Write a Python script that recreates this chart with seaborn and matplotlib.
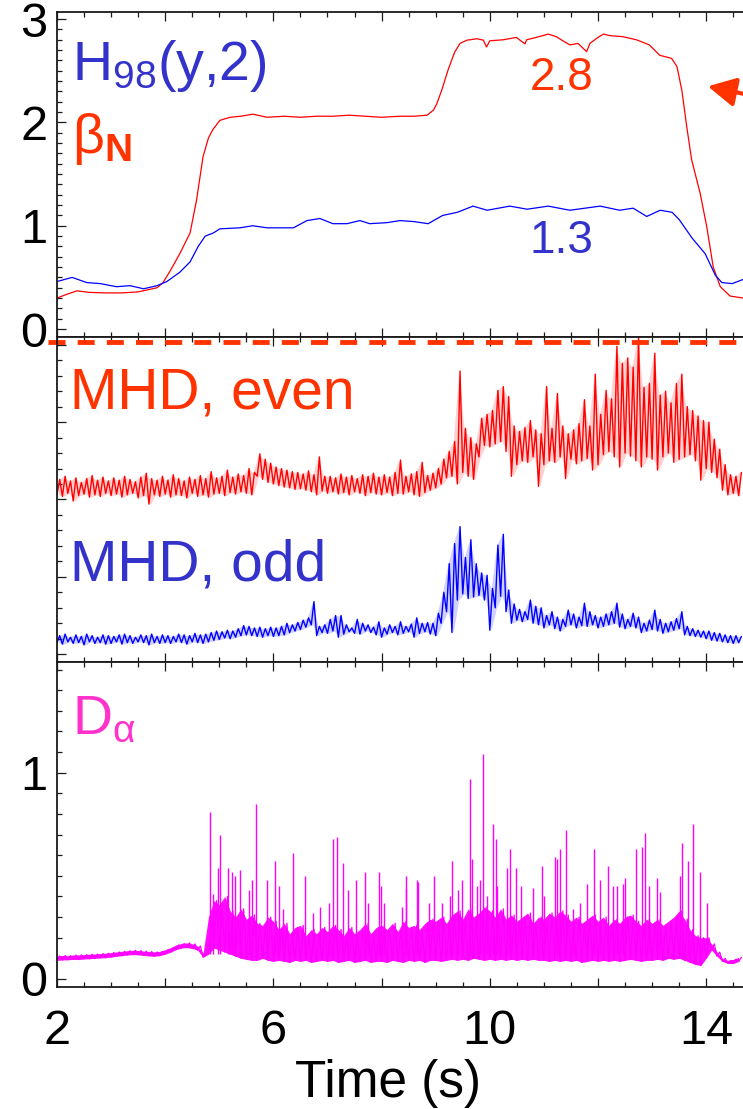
import numpy as np
import pandas as pd
import matplotlib
matplotlib.use("Agg")
import matplotlib.pyplot as plt
from matplotlib.ticker import MultipleLocator, FuncFormatter
import seaborn as sns

# ---------------- top panel: confinement and normalised beta ----------------
beta_t = [2.00, 2.20, 2.37, 2.60, 2.90, 3.20, 3.50, 3.85, 3.96, 4.10, 4.27, 4.46, 4.58,
          4.70, 4.80, 4.88, 5.01, 5.20, 5.40, 5.62, 5.88, 6.20, 6.50, 6.80, 7.10, 7.40,
          7.70, 8.00, 8.34, 8.60, 8.84, 8.96, 9.02, 9.11, 9.23, 9.35, 9.45, 9.58, 9.64,
          9.76, 9.88, 9.94, 10.00, 10.25, 10.49, 10.65, 10.68, 10.86, 11.08, 11.23, 11.32,
          11.48, 11.63, 11.79, 11.85, 12.00, 12.10, 12.22, 12.46, 12.71, 12.95, 13.14,
          13.36, 13.46, 13.55, 13.64, 13.73, 13.89, 14.01, 14.13, 14.26, 14.44, 14.68]
beta_n = [0.30, 0.34, 0.37, 0.355, 0.35, 0.35, 0.36, 0.40, 0.45, 0.57, 0.73, 0.93, 1.25,
          1.67, 1.85, 1.93, 2.02, 2.05, 2.06, 2.08, 2.05, 2.06, 2.05, 2.06, 2.06, 2.07,
          2.06, 2.05, 2.06, 2.06, 2.07, 2.12, 2.18, 2.31, 2.51, 2.68, 2.765, 2.797, 2.80,
          2.81, 2.797, 2.73, 2.79, 2.80, 2.823, 2.76, 2.80, 2.823, 2.855, 2.83, 2.80,
          2.75, 2.765, 2.685, 2.765, 2.823, 2.855, 2.84, 2.83, 2.80, 2.75, 2.65,
          2.62, 2.54, 2.31, 1.96, 1.64, 1.31, 0.99, 0.60, 0.41, 0.32, 0.30]

h98_t = [2.00, 2.28, 2.55, 2.80, 3.10, 3.35, 3.60, 3.85, 4.03, 4.27, 4.46, 4.61, 4.74,
         4.89, 5.01, 5.38, 5.62, 5.88, 6.37, 6.62, 6.86, 7.10, 7.36, 7.60, 7.78, 8.10,
         8.34, 8.60, 8.86, 9.13, 9.40, 9.69, 9.95, 10.37, 10.69, 11.08, 11.48, 12.04,
         12.40, 12.65, 12.90, 13.15, 13.37, 13.50, 13.74, 13.98, 14.17, 14.29, 14.48, 14.68]
h98 = [0.46, 0.50, 0.45, 0.44, 0.41, 0.42, 0.39, 0.42, 0.46, 0.55, 0.65, 0.80, 0.90,
       0.93, 0.97, 0.98, 1.00, 0.98, 0.98, 1.05, 1.07, 1.02, 1.02, 1.05, 1.02, 1.03,
       1.05, 1.04, 1.02, 1.10, 1.13, 1.19, 1.15, 1.19, 1.16, 1.19, 1.15, 1.19,
       1.15, 1.17, 1.09, 1.15, 1.13, 1.06, 0.88, 0.73, 0.52, 0.45, 0.44, 0.48]

beta_flattop = 2.8
h98_flattop = 1.3
beta_limit = 2.35          # level marked by the arrow on the right

# ---------------- middle panel: MHD amplitudes (per-bin min / max, 0.1 s bins) ----------------
t_bins = np.round(np.arange(2.0, 14.65, 0.1), 2)

even_lo = [2.06, 2.04, 2.08, 1.98, 2.05, 2.07, 2.03, 2.06, 2.04, 2.08,
           2.05, 2.07, 2.03, 2.06, 2.08, 2.02, 2.05, 1.94, 2.06, 2.04,
           2.07, 2.03, 2.06, 2.05, 2.02, 2.08, 2.04, 2.06, 2.03, 2.07,
           2.08, 2.05, 2.09, 2.07, 2.10, 2.08, 2.06, 2.30, 2.26, 2.22,
           2.20, 2.18, 2.16, 2.15, 2.13, 2.14, 2.12, 2.10, 2.06, 2.11,
           2.08, 2.10, 2.07, 2.09, 2.06, 2.10, 2.08, 2.05, 2.09, 2.07,
           2.06, 2.09, 2.05, 2.08, 2.07, 2.10, 2.06, 2.04, 2.09, 2.12,
           2.15, 2.20, 2.28, 2.30, 2.20, 2.35, 2.30, 2.26, 2.55, 2.70,
           2.68, 2.72, 2.75, 2.62, 2.30, 2.45, 2.50, 2.48, 2.55, 2.17,
           2.45, 2.50, 2.48, 2.55, 2.27, 2.52, 2.46, 2.50, 2.53, 2.38,
           2.45, 2.58, 2.62, 2.55, 2.42, 2.60, 2.56, 2.50, 2.42, 2.55,
           2.52, 2.38, 2.55, 2.60, 2.48, 2.52, 2.55, 2.58, 2.50, 2.25,
           2.40, 2.35, 2.28, 2.12, 2.06, 2.08, 2.05]
even_hi = [2.26, 2.30, 2.24, 2.28, 2.22, 2.27, 2.31, 2.25, 2.29, 2.24,
           2.28, 2.25, 2.30, 2.26, 2.23, 2.29, 2.34, 2.27, 2.25, 2.30,
           2.25, 2.32, 2.27, 2.24, 2.29, 2.26, 2.31, 2.27, 2.36, 2.28,
           2.30, 2.38, 2.29, 2.33, 2.31, 2.40, 2.35, 2.59, 2.52, 2.47,
           2.42, 2.40, 2.38, 2.36, 2.35, 2.33, 2.37, 2.32, 2.55, 2.30,
           2.30, 2.28, 2.33, 2.29, 2.31, 2.27, 2.32, 2.30, 2.34, 2.29,
           2.32, 2.29, 2.35, 2.51, 2.30, 2.33, 2.36, 2.48, 2.31, 2.34,
           2.40, 2.52, 2.62, 2.75, 3.66, 2.92, 2.80, 2.72, 3.05, 3.10,
           3.15, 3.41, 3.46, 3.33, 2.95, 2.88, 2.93, 3.02, 2.90, 2.85,
           3.46, 2.92, 3.37, 2.95, 2.85, 2.90, 2.98, 3.29, 2.95, 3.62,
           3.10, 3.41, 3.30, 3.98, 3.76, 3.83, 3.71, 4.10, 3.45, 3.50,
           3.89, 3.35, 3.40, 3.25, 3.50, 3.62, 3.20, 3.15, 3.08, 3.02,
           3.00, 2.78, 2.65, 2.45, 2.32, 2.30, 2.35]

odd_lo = [0.15, 0.13, 0.16, 0.14, 0.15, 0.12, 0.16, 0.14, 0.15, 0.13,
          0.14, 0.16, 0.13, 0.15, 0.14, 0.16, 0.15, 0.12, 0.15, 0.14,
          0.15, 0.14, 0.16, 0.15, 0.13, 0.16, 0.15, 0.14, 0.16, 0.18,
          0.19, 0.21, 0.20, 0.22, 0.24, 0.25, 0.24, 0.23, 0.22, 0.24,
          0.23, 0.24, 0.25, 0.28, 0.30, 0.32, 0.35, 0.38, 0.24, 0.28,
          0.27, 0.30, 0.22, 0.26, 0.29, 0.27, 0.26, 0.30, 0.28, 0.25,
          0.22, 0.26, 0.28, 0.25, 0.27, 0.29, 0.22, 0.27, 0.29, 0.26,
          0.24, 0.40, 0.55, 0.28, 0.70, 0.78, 0.72, 0.74, 0.76, 0.70,
          0.31, 0.60, 0.75, 0.55, 0.40, 0.44, 0.42, 0.45, 0.40, 0.38,
          0.34, 0.38, 0.33, 0.30, 0.36, 0.38, 0.34, 0.37, 0.36, 0.38,
          0.34, 0.36, 0.38, 0.40, 0.35, 0.33, 0.36, 0.34, 0.28, 0.30,
          0.32, 0.30, 0.27, 0.29, 0.31, 0.33, 0.25, 0.24, 0.23, 0.22,
          0.20, 0.18, 0.17, 0.16, 0.15, 0.14, 0.15]
odd_hi = [0.24, 0.26, 0.22, 0.25, 0.23, 0.26, 0.24, 0.22, 0.25, 0.24,
          0.23, 0.25, 0.26, 0.24, 0.22, 0.25, 0.24, 0.26, 0.23, 0.25,
          0.24, 0.23, 0.26, 0.25, 0.24, 0.27, 0.25, 0.26, 0.28, 0.30,
          0.29, 0.31, 0.30, 0.33, 0.37, 0.36, 0.34, 0.35, 0.33, 0.35,
          0.34, 0.36, 0.40, 0.38, 0.41, 0.44, 0.47, 0.68, 0.36, 0.38,
          0.45, 0.50, 0.50, 0.38, 0.34, 0.45, 0.40, 0.38, 0.35, 0.42,
          0.34, 0.38, 0.36, 0.42, 0.36, 0.39, 0.47, 0.40, 0.41, 0.40,
          0.53, 0.80, 1.17, 1.43, 1.65, 1.25, 1.48, 1.17, 1.05, 1.02,
          0.85, 1.41, 1.55, 0.83, 0.65, 0.58, 0.55, 0.70, 0.62, 0.60,
          0.50, 0.55, 0.48, 0.45, 0.57, 0.52, 0.48, 0.66, 0.55, 0.50,
          0.48, 0.52, 0.55, 0.66, 0.52, 0.45, 0.53, 0.48, 0.40, 0.44,
          0.57, 0.45, 0.40, 0.42, 0.46, 0.55, 0.36, 0.33, 0.31, 0.30,
          0.30, 0.28, 0.27, 0.25, 0.24, 0.24, 0.23]

even_limit = 4.03          # dashed reference level at the top of the MHD panel

# ---------------- bottom panel: D-alpha (per-bin min / max plus ELM spikes) ----------------
da_lo = [0.090, 0.092, 0.093, 0.095, 0.094, 0.097, 0.098, 0.100, 0.102, 0.103,
         0.106, 0.110, 0.113, 0.116, 0.118, 0.117, 0.114, 0.112, 0.110, 0.113,
         0.120, 0.130, 0.142, 0.150, 0.152, 0.148, 0.140, 0.105, 0.120, 0.150,
         0.140, 0.130, 0.120, 0.110, 0.100, 0.095, 0.090, 0.090, 0.100, 0.090,
         0.085, 0.090, 0.085, 0.080, 0.090, 0.085, 0.090, 0.080, 0.085, 0.090,
         0.085, 0.090, 0.080, 0.085, 0.090, 0.080, 0.085, 0.090, 0.080, 0.085,
         0.085, 0.080, 0.090, 0.085, 0.080, 0.090, 0.085, 0.090, 0.080, 0.090,
         0.090, 0.085, 0.090, 0.095, 0.090, 0.095, 0.090, 0.100, 0.095, 0.090,
         0.095, 0.090, 0.095, 0.090, 0.095, 0.090, 0.095, 0.090, 0.095, 0.090,
         0.090, 0.085, 0.090, 0.085, 0.090, 0.085, 0.090, 0.080, 0.085, 0.090,
         0.085, 0.090, 0.085, 0.090, 0.085, 0.090, 0.095, 0.090, 0.085, 0.090,
         0.090, 0.095, 0.090, 0.100, 0.095, 0.100, 0.090, 0.080, 0.070, 0.065,
         0.100, 0.140, 0.110, 0.085, 0.075, 0.075, 0.085]
da_hi = [0.112, 0.114, 0.113, 0.116, 0.117, 0.118, 0.120, 0.121, 0.123, 0.125,
         0.128, 0.131, 0.134, 0.137, 0.139, 0.138, 0.135, 0.133, 0.131, 0.134,
         0.142, 0.152, 0.165, 0.172, 0.175, 0.170, 0.160, 0.125, 0.300, 0.380,
         0.360, 0.400, 0.330, 0.300, 0.340, 0.290, 0.310, 0.270, 0.260, 0.300,
         0.280, 0.240, 0.270, 0.220, 0.250, 0.260, 0.210, 0.240, 0.220, 0.250,
         0.230, 0.260, 0.240, 0.210, 0.250, 0.220, 0.240, 0.270, 0.220, 0.250,
         0.260, 0.240, 0.270, 0.230, 0.280, 0.250, 0.260, 0.240, 0.270, 0.290,
         0.280, 0.300, 0.270, 0.310, 0.330, 0.290, 0.340, 0.300, 0.320, 0.350,
         0.330, 0.300, 0.340, 0.290, 0.310, 0.280, 0.300, 0.320, 0.270, 0.300,
         0.290, 0.320, 0.300, 0.330, 0.310, 0.280, 0.300, 0.270, 0.290, 0.310,
         0.280, 0.300, 0.260, 0.290, 0.270, 0.300, 0.310, 0.280, 0.260, 0.290,
         0.270, 0.290, 0.260, 0.280, 0.300, 0.330, 0.290, 0.240, 0.210, 0.200,
         0.200, 0.170, 0.130, 0.100, 0.090, 0.095, 0.105]

elm_t = [4.82, 4.88, 4.98, 5.02, 5.16, 5.23, 5.29, 5.38, 5.54, 5.60, 5.68, 5.88, 6.03,
         6.11, 6.18, 6.37, 6.58, 6.74, 6.86, 7.02, 7.11, 7.18, 7.29, 7.38, 7.52, 7.69,
         7.75, 7.95, 7.99, 8.05, 8.37, 8.45, 8.46, 8.65, 8.68, 8.88, 8.96, 9.11, 9.26,
         9.30, 9.42, 9.49, 9.63, 9.68, 9.76, 9.82, 9.88, 9.94, 10.05, 10.11, 10.13,
         10.31, 10.37, 10.48, 10.58, 10.80, 10.96, 11.00, 11.20, 11.25, 11.30, 11.41,
         11.54, 11.67, 11.79, 11.93, 12.04, 12.18, 12.27, 12.36, 12.47, 12.50, 12.70,
         12.81, 12.86, 12.95, 13.09, 13.15, 13.52, 13.55, 13.67, 13.76, 13.89, 14.01]
elm_peak = [0.81, 0.41, 0.54, 0.70, 0.54, 0.52, 0.50, 0.53, 0.43, 0.48, 0.85, 0.48, 0.57,
            0.45, 0.34, 0.61, 0.50, 0.32, 0.35, 0.37, 0.68, 0.69, 0.56, 0.43, 0.48, 0.52,
            0.37, 0.52, 0.45, 0.37, 0.35, 0.50, 0.44, 0.48, 0.47, 0.37, 0.50, 0.37, 0.40,
            0.57, 0.43, 0.48, 0.97, 0.58, 0.45, 0.48, 1.09, 0.40, 0.75, 0.68, 0.45,
            0.54, 0.63, 0.54, 0.45, 0.44, 0.55, 0.40, 0.59, 0.58, 0.63, 0.72,
            0.34, 0.37, 0.46, 0.63, 0.48, 0.55, 0.45, 0.45, 0.46, 0.49, 0.63,
            0.64, 0.71, 0.45, 0.49, 0.42, 0.50, 0.66, 0.57, 0.75, 0.52, 0.37]

# ---------------- styling ----------------
sns.set_theme(style="ticks")
plt.rcParams["font.family"] = ["Liberation Sans", "DejaVu Sans"]
plt.rcParams["mathtext.fontset"] = "custom"
plt.rcParams["mathtext.rm"] = "Liberation Sans"
plt.rcParams["mathtext.sf"] = "Liberation Sans"
plt.rcParams["mathtext.it"] = "Liberation Sans:italic"
plt.rcParams["mathtext.bf"] = "Liberation Sans:bold"
plt.rcParams["mathtext.default"] = "regular"
for key in ("text.color", "axes.labelcolor", "xtick.labelcolor", "ytick.labelcolor"):
    plt.rcParams[key] = "black"

RED_LINE, BLUE_LINE, MAG_LINE = "#ff0000", "#0000ff", "#ff00ff"
RED_TXT, BLUE_TXT, MAG_TXT = "#ff3300", "#3333cc", "#ff33cc"
AXIS_CLR = "#1a1a1a"

fig = plt.figure(figsize=(7.43, 11.09), dpi=100)
left, width = 0.0767, 1.0 - 0.0767
ax1 = fig.add_axes([left, 0.6961, width, 0.2931])
ax2 = fig.add_axes([left, 0.4031, width, 0.2930])
ax3 = fig.add_axes([left, 0.1100, width, 0.2931])

XMIN, XMAX = 2.0, 14.68


def style_axis(ax, ymin, ymax, ymajor, yminor, show_y=True, show_x=False):
    ax.set_xlim(XMIN, XMAX)
    ax.set_ylim(ymin, ymax)
    ax.xaxis.set_major_locator(MultipleLocator(2))
    ax.xaxis.set_minor_locator(MultipleLocator(0.5))
    ax.yaxis.set_major_locator(MultipleLocator(ymajor))
    ax.yaxis.set_minor_locator(MultipleLocator(yminor))
    ax.tick_params(which="both", direction="in", top=True, bottom=True,
                   left=True, right=False, color=AXIS_CLR, width=0.9,
                   labelcolor="black")
    ax.tick_params(which="major", length=6.5)
    ax.tick_params(which="minor", length=3.6)
    ax.tick_params(axis="y", labelsize=35, pad=7)
    ax.tick_params(axis="x", labelsize=35, pad=16)
    if show_x:
        ax.xaxis.set_major_formatter(
            FuncFormatter(lambda v, p: f"{v:g}" if int(round(v)) % 4 == 2 else ""))
    else:
        ax.tick_params(axis="x", labelbottom=False)
    if not show_y:
        ax.tick_params(axis="y", labelleft=False)
    else:
        ax.yaxis.set_major_formatter(FuncFormatter(lambda v, p: f"{v:g}"))
    ax.spines["right"].set_visible(False)
    for s in ("left", "top", "bottom"):
        ax.spines[s].set_linewidth(1.3)
        ax.spines[s].set_color(AXIS_CLR)
    ax.set_xlabel("")
    ax.set_ylabel("")


def minmax_trace(t, lo, hi):
    tt = np.column_stack([t, t + 0.05]).ravel()
    vv = np.column_stack([lo, hi]).ravel()
    return pd.DataFrame({"t": tt, "v": vv})


# top panel
sns.lineplot(x=beta_t, y=beta_n, ax=ax1, color=RED_LINE, lw=0.9, estimator=None)
sns.lineplot(x=h98_t, y=h98, ax=ax1, color=BLUE_LINE, lw=0.9, estimator=None)
style_axis(ax1, -0.077, 3.069, 1, 0.1)
ax1.text(2.28, 2.41, "H$_{98}$(y,2)", color=BLUE_TXT, fontsize=40, va="baseline")
ax1.text(2.28, 1.70, r"β$_{\mathbf{N}}$", color=RED_TXT, fontsize=40, va="baseline")
ax1.text(11.33, 2.31, f"{beta_flattop:.1f}", color=RED_TXT, fontsize=33,
         ha="center", va="baseline")
ax1.text(11.33, 0.736, f"{h98_flattop:.1f}", color=BLUE_TXT, fontsize=33,
         ha="center", va="baseline")
ax1.annotate("", xy=(14.03, beta_limit), xytext=(15.3, beta_limit - 0.14),
             annotation_clip=False,
             arrowprops=dict(arrowstyle="-|>,head_length=0.42,head_width=0.22",
                             mutation_scale=40, color=RED_TXT, lw=3,
                             shrinkA=0, shrinkB=0))

# middle panel: dense noise drawn as a faint min/max band plus the min/max trace
even_df = minmax_trace(t_bins, even_lo, even_hi)
odd_df = minmax_trace(t_bins, odd_lo, odd_hi)
ax2.fill_between(t_bins + 0.025, even_lo, even_hi, color=RED_LINE, lw=0, alpha=0.18)
ax2.fill_between(t_bins + 0.025, odd_lo, odd_hi, color=BLUE_LINE, lw=0, alpha=0.18)
sns.lineplot(data=even_df, x="t", y="v", ax=ax2, color=RED_LINE, lw=1.0,
             estimator=None)
sns.lineplot(data=odd_df, x="t", y="v", ax=ax2, color=BLUE_LINE, lw=1.0,
             estimator=None)
style_axis(ax2, -0.10, 4.10, 1, 0.2, show_y=False)
ax2.axhline(even_limit, xmin=-0.013, xmax=1.0, color=RED_TXT, lw=3.5,
            ls=(0, (3.5, 2.5)), dash_capstyle="butt", clip_on=False)
ax2.text(2.24, 3.18, "MHD, even", color=RED_TXT, fontsize=41, va="baseline")
ax2.text(2.24, 0.957, "MHD, odd", color=BLUE_TXT, fontsize=41, va="baseline")

# bottom panel
ax3.fill_between(t_bins, da_lo, da_hi, color=MAG_LINE, lw=0, alpha=0.95)
da_df = minmax_trace(t_bins, da_lo, da_hi)
sns.lineplot(data=da_df, x="t", y="v", ax=ax3, color=MAG_LINE, lw=0.9,
             estimator=None)
ax3.vlines(elm_t, 0.12, elm_peak, color=MAG_LINE, lw=1.0)
style_axis(ax3, -0.039, 1.537, 1, 0.1, show_x=True)
ax3.text(2.28, 1.188, "D$_{α}$", color=MAG_TXT, fontsize=40, va="baseline")

fig.text(0.522, 0.0108, "Time (s)", ha="center", va="baseline", fontsize=37)

fig.savefig("out.png", dpi=100)
